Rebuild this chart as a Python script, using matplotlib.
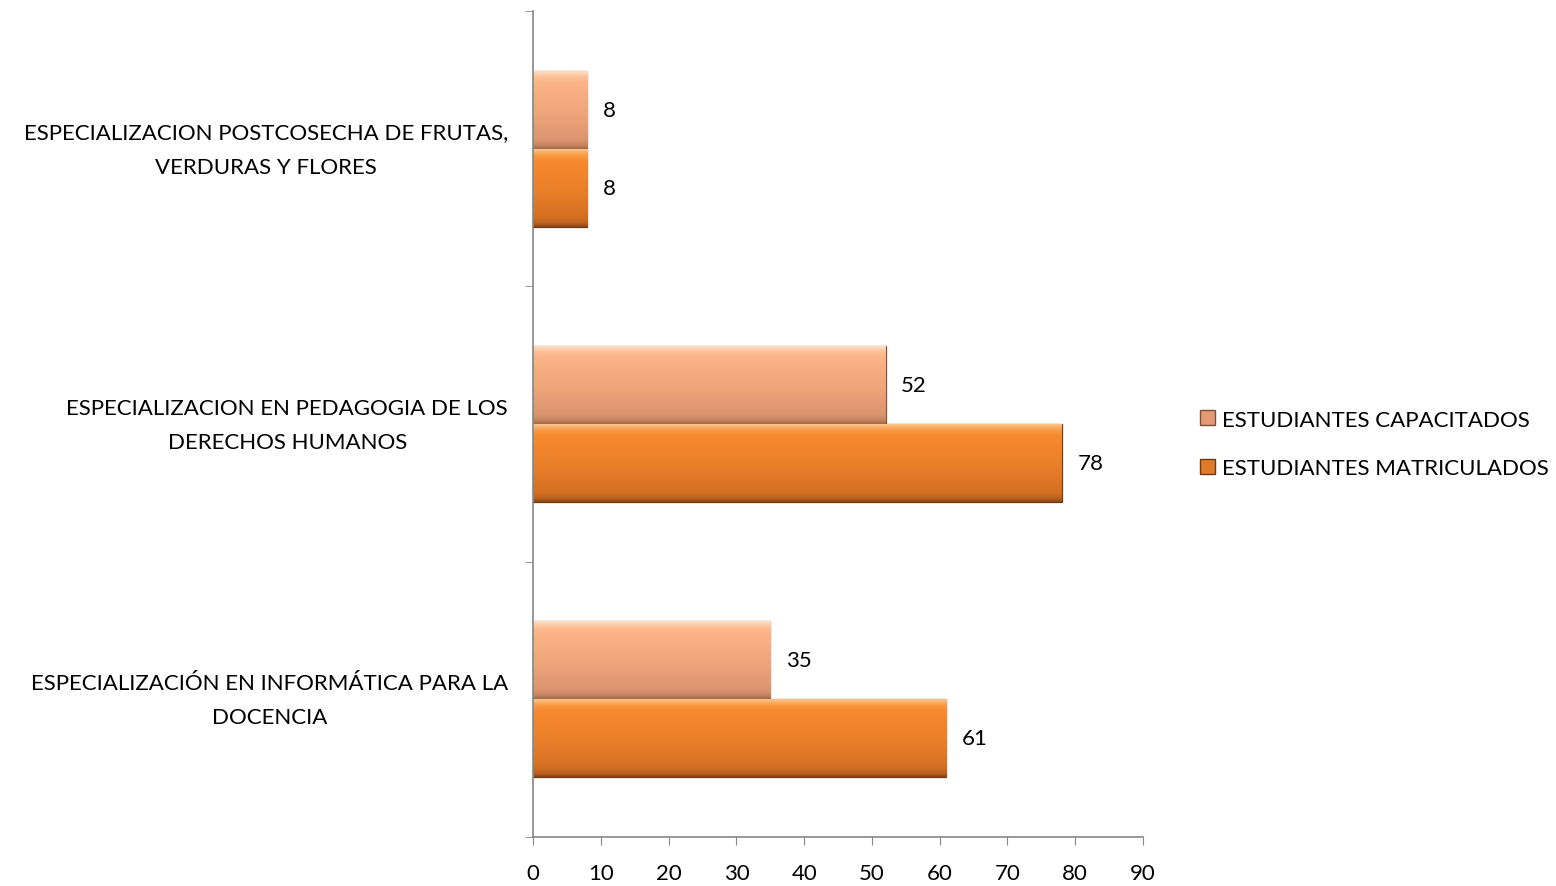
import numpy as np
import matplotlib

matplotlib.use('Agg')
import matplotlib.pyplot as plt
from matplotlib.colors import LinearSegmentedColormap
from matplotlib.patches import Patch

categories = [
    'ESPECIALIZACIÓN EN INFORMÁTICA PARA LA\nDOCENCIA',
    'ESPECIALIZACION EN PEDAGOGIA DE LOS\nDERECHOS HUMANOS',
    'ESPECIALIZACION POSTCOSECHA DE FRUTAS,\nVERDURAS Y FLORES',
]
capacitados = [35, 52, 8]
matriculados = [61, 78, 8]
series_names = ['ESTUDIANTES CAPACITADOS', 'ESTUDIANTES MATRICULADOS']

plt.rcParams['font.family'] = ['Lato', 'DejaVu Sans']
gray = '#868686'
fs = 16

fig = plt.figure(figsize=(15.56, 8.87), dpi=100)
ax = fig.add_axes([0.3426, 0.0552, 0.7346 - 0.3426, 0.9865 - 0.0552])

y = np.arange(len(categories))
h = 0.283
bars_cap = ax.barh(y + h / 2, capacitados, height=h, color='#F0A77A',
                   edgecolor='#7A5038', linewidth=0.9, zorder=2)
bars_mat = ax.barh(y - h / 2, matriculados, height=h, color='#EB8430',
                   edgecolor='#6A3A12', linewidth=0.9, zorder=2)

# bevel-like vertical shading: light top rim, flat middle, darker bottom rim
cmap_cap = LinearSegmentedColormap.from_list('cap', [
    (0.0, '#FCE0C4'), (0.08, '#FDBE94'), (0.15, '#FCB387'), (0.55, '#EFA47A'),
    (0.88, '#DC9470'), (0.95, '#C8845F'), (1.0, '#9E6A4C')])
cmap_mat = LinearSegmentedColormap.from_list('mat', [
    (0.0, '#FCC58C'), (0.08, '#F99A45'), (0.15, '#F7892E'), (0.55, '#EA7F2A'),
    (0.88, '#D46F22'), (0.95, '#BD621E'), (1.0, '#8C4714')])
grad = np.linspace(0, 1, 256).reshape(-1, 1)

for bars, cmap in ((bars_cap, cmap_cap), (bars_mat, cmap_mat)):
    for bar in bars:
        x0, y0 = bar.get_x(), bar.get_y()
        w, hh = bar.get_width(), bar.get_height()
        im = ax.imshow(grad, cmap=cmap, aspect='auto', origin='upper',
                       extent=[x0, x0 + w, y0, y0 + hh], zorder=2.5)
        im.set_clip_path(bar)
        ax.text(x0 + w + 2.3, y0 + hh / 2, f'{w:g}', va='center', ha='left',
                fontsize=fs, color='black')

ax.set_xlim(0, 90)
ax.set_ylim(-0.5, len(categories) - 0.5)
ax.set_xticks(np.arange(0, 91, 10))
ax.set_yticks(y)
ax.set_yticklabels([])
ax.set_yticks(np.arange(-0.5, len(categories), 1), minor=True)

# category labels, drawn as text so the two lines centre on the band
for yi, cat in zip(y, categories):
    ax.annotate(cat, xy=(0, yi), xycoords=('axes fraction', 'data'),
                xytext=(-18, -0.5), textcoords='offset points', ha='right',
                va='center', multialignment='center', fontsize=fs, linespacing=1.9)

ax.tick_params(axis='y', which='major', length=0)
ax.tick_params(axis='y', which='minor', length=6, color=gray, direction='out')
ax.tick_params(axis='x', length=6, color=gray, direction='out', labelsize=fs, pad=13)

for side in ('top', 'right'):
    ax.spines[side].set_visible(False)
for side in ('left', 'bottom'):
    ax.spines[side].set_color(gray)
    ax.spines[side].set_linewidth(1.2)

handles = [Patch(facecolor='#E39A70', edgecolor='#7A5038'),
           Patch(facecolor='#E07A28', edgecolor='#6A3A12')]
fig.legend(handles, series_names, loc='center left', bbox_to_anchor=(0.7585, 0.4985),
           frameon=False, fontsize=fs, handlelength=0.65, handleheight=0.65,
           handletextpad=0.35, labelspacing=1.28)

fig.savefig('out.png', dpi=100)
